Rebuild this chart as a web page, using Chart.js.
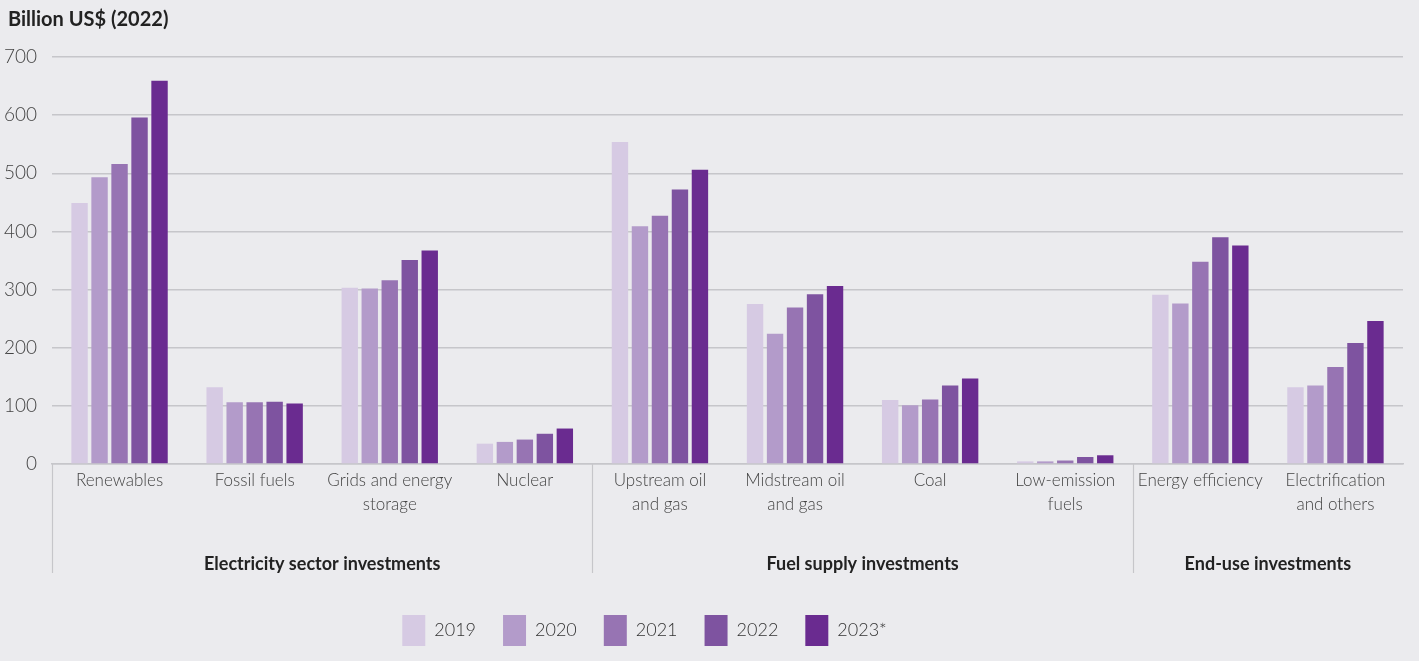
<!DOCTYPE html>
<html>
<head>
<meta charset="utf-8">
<script src="https://cdn.jsdelivr.net/npm/chart.js@4"></script>
<style>
  html, body { margin: 0; padding: 0; background: #ebebee; }
  #wrap { width: 1419px; height: 661px; }
</style>
</head>
<body>
<div id="wrap"><canvas id="c" width="1419" height="661"></canvas></div>
<script>
const categories = [
  ["Renewables"], ["Fossil fuels"], ["Grids and energy", "storage"], ["Nuclear"],
  ["Upstream oil", "and gas"], ["Midstream oil", "and gas"], ["Coal"], ["Low-emission", "fuels"],
  ["Energy efficiency"], ["Electrification", "and others"]
];
const years = ["2019", "2020", "2021", "2022", "2023*"];
const v2019 = [449, 132, 303, 35, 554, 275, 110, 4.5, 291, 132];
const v2020 = [493, 106, 302, 38, 409, 224, 101, 4.5, 276, 135];
const v2021 = [516, 106, 316, 42, 427, 269, 111, 6, 348, 167];
const v2022 = [596, 107, 351, 52, 472, 292, 135, 12, 390, 208];
const v2023 = [659, 104, 367, 61, 506, 306, 147, 15, 376, 246];
const yTicks = [0, 100, 200, 300, 400, 500, 600, 700];
const groupNames = ["Electricity sector investments", "Fuel supply investments", "End-use investments"];
const groupStarts = [0, 4, 8];
const groupEnds = [4, 8, 10];
const colors = ["#d6cae3", "#b39bca", "#9774b3", "#7e53a0", "#6a2b90"];
const unitLabel = "Billion US$ (2022)";

const FONT = "Lato, 'Source Sans Pro', 'Noto Sans', sans-serif";
const seriesVals = [v2019, v2020, v2021, v2022, v2023];

const bgPlugin = {
  id: 'bg',
  beforeDraw(chart) {
    const ctx = chart.ctx;
    ctx.save();
    ctx.fillStyle = '#ebebee';
    ctx.fillRect(0, 0, chart.width, chart.height);
    ctx.restore();
  }
};

const shiftPlugin = {
  id: 'shiftBoxes',
  afterLayout(chart) {
    if (chart.legend) {
      chart.legend.left -= 57;
      chart.legend.right -= 57;
    }
    if (chart.titleBlock) {
      chart.titleBlock.left += 8;
      chart.titleBlock.right += 8;
    }
  }
};

const groupPlugin = {
  id: 'groups',
  afterDraw(chart) {
    const ctx = chart.ctx;
    const area = chart.chartArea;
    const n = categories.length;
    const step = (area.right - area.left) / n;
    ctx.save();
    ctx.strokeStyle = '#c6c6ca';
    ctx.lineWidth = 1.2;
    const yTop = area.bottom;
    const yBot = area.bottom + 109;
    groupStarts.forEach((s, i) => {
      const xl = Math.round(area.left + s * step) + 0.5;
      ctx.beginPath();
      ctx.moveTo(xl, yTop);
      ctx.lineTo(xl, yBot);
      ctx.stroke();
      const xr = area.left + groupEnds[i] * step;
      ctx.fillStyle = '#222222';
      ctx.font = "bold 18px " + FONT;
      ctx.textAlign = 'center';
      ctx.textBaseline = 'middle';
      ctx.fillText(groupNames[i], (area.left + s * step + xr) / 2, area.bottom + 100);
    });
    ctx.restore();
  }
};

new Chart(document.getElementById('c'), {
  type: 'bar',
  data: {
    labels: categories,
    datasets: years.map((y, i) => ({
      label: y,
      data: seriesVals[i],
      backgroundColor: colors[i],
      borderWidth: 0,
      categoryPercentage: 0.74,
      barPercentage: 0.82
    }))
  },
  options: {
    responsive: false,
    animation: false,
    devicePixelRatio: 1,
    layout: { padding: { left: 0, right: 16, top: 0, bottom: 5 } },
    plugins: {
      title: {
        display: true,
        text: unitLabel,
        align: 'start',
        color: '#222222',
        font: { family: FONT, size: 20, weight: 'bold' },
        padding: { top: 8, bottom: 25 }
      },
      legend: {
        position: 'bottom',
        labels: {
          color: '#333333',
          font: { family: FONT, size: 18, weight: 300 },
          boxWidth: 23,
          boxHeight: 31,
          padding: 27
        }
      },
      tooltip: { enabled: false }
    },
    scales: {
      x: {
        grid: { display: false },
        border: { display: true, color: '#c6c6ca', width: 1.5 },
        ticks: {
          color: '#444444',
          font: { family: FONT, size: 17, weight: 300, lineHeight: 1.4 },
          padding: -3,
          maxRotation: 0,
          autoSkip: false
        },
        afterFit(scale) { scale.height = 124; }
      },
      y: {
        min: 0,
        max: 700,
        afterBuildTicks(scale) { scale.ticks = yTicks.map(v => ({ value: v })); },
        afterFit(scale) { scale.width = 52; },
        grid: { color: '#c6c6ca', lineWidth: 1.5, drawTicks: false },
        border: { display: false },
        ticks: {
          color: '#444444',
          font: { family: FONT, size: 19, weight: 300 },
          padding: 15
        }
      }
    }
  },
  plugins: [bgPlugin, shiftPlugin, groupPlugin]
});
</script>
</body>
</html>
